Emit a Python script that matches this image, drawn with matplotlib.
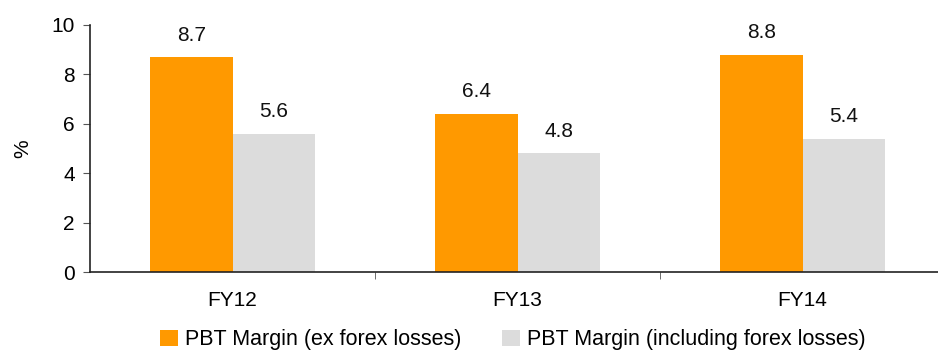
import matplotlib
matplotlib.use("Agg")
import matplotlib.pyplot as plt
import numpy as np

plt.rcParams['font.family'] = ['Liberation Sans', 'DejaVu Sans']

years = ["FY12", "FY13", "FY14"]
ex_forex = [8.7, 6.4, 8.8]
incl_forex = [5.6, 4.8, 5.4]
series_names = ["PBT Margin (ex forex losses)", "PBT Margin (including forex losses)"]

W, H = 938, 354
fig = plt.figure(figsize=(W / 100, H / 100), dpi=100)
ax = fig.add_axes([90 / W, (H - 272) / H, 855 / W, 247 / H])

x = np.arange(len(years))
bw = 0.29
b1 = ax.bar(x - bw / 2, ex_forex, bw, color="#FF9900", label=series_names[0])
b2 = ax.bar(x + bw / 2, incl_forex, bw, color="#DCDCDC", label=series_names[1])

for bars, vals in ((b1, ex_forex), (b2, incl_forex)):
    for rect, v in zip(bars, vals):
        ax.annotate(f"{v:.1f}", (rect.get_x() + rect.get_width() / 2, v),
                    xytext=(0, 9), textcoords="offset points",
                    ha="center", va="bottom", fontsize=15, color="#111111")

ax.set_xlim(-0.5, 2.5)
ax.set_ylim(0, 10)
ax.set_yticks(range(0, 11, 2))
ax.set_xticks(x)
ax.set_xticklabels(years)
ax.set_xticks([0.5, 1.5], minor=True)
ax.tick_params(axis="x", which="major", length=0, pad=14, labelsize=15)
ax.tick_params(axis="x", which="minor", length=5, direction="out", color="#555555")
ax.tick_params(axis="y", length=5, direction="out", color="#555555", labelsize=15, pad=6)
ax.set_ylabel("%", fontsize=15, labelpad=14)

for s in ("top", "right"):
    ax.spines[s].set_visible(False)
for s in ("left", "bottom"):
    ax.spines[s].set_color("#222222")
    ax.spines[s].set_linewidth(1.2)

fig.legend(handles=[b1, b2], loc="center", bbox_to_anchor=(0.547, 1 - 340 / H),
           ncol=2, frameon=False, fontsize=15.5, handlelength=0.8, handleheight=0.8,
           handletextpad=0.35, columnspacing=1.9)

fig.savefig("out.png", dpi=100)
